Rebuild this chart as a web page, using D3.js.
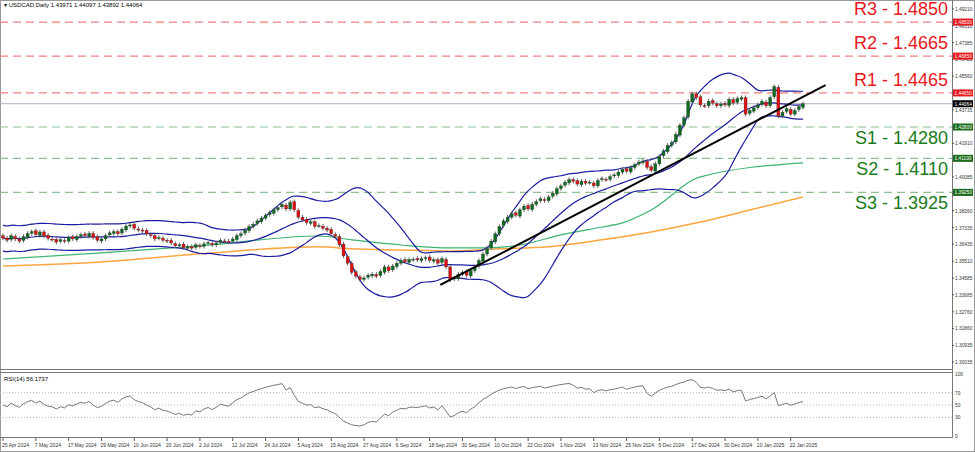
<!DOCTYPE html>
<html><head><meta charset="utf-8">
<script src="https://cdn.jsdelivr.net/npm/d3@7"></script>
<style>body{margin:0;background:#fff}svg{font-family:"Liberation Sans",Arial,sans-serif}</style>
</head><body><svg id="c" width="975" height="452"></svg>
<script>
const closes = [
1.3677,1.3665,1.3690,1.3672,1.3660,1.3685,1.3702,1.3712,1.3695,1.3710,
1.3688,1.3675,1.3670,1.3655,1.3668,1.3660,1.3680,1.3672,1.3685,1.3695,
1.3690,1.3702,1.3680,1.3665,1.3672,1.3690,1.3705,1.3712,1.3700,1.3725,
1.3742,1.3748,1.3730,1.3720,1.3715,1.3700,1.3690,1.3672,1.3680,1.3665,
1.3660,1.3650,1.3635,1.3640,1.3625,1.3630,1.3622,1.3640,1.3632,1.3645,
1.3652,1.3640,1.3650,1.3665,1.3660,1.3655,1.3672,1.3690,1.3700,1.3720,
1.3740,1.3752,1.3770,1.3785,1.3800,1.3815,1.3830,1.3842,1.3860,1.3835,
1.3870,1.3830,1.3790,1.3775,1.3760,1.3765,1.3740,1.3745,1.3730,1.3720,
1.3700,1.3685,1.3640,1.3580,1.3540,1.3490,1.3470,1.3452,1.3460,1.3475,
1.3480,1.3470,1.3495,1.3520,1.3500,1.3525,1.3540,1.3555,1.3548,1.3560,
1.3562,1.3558,1.3565,1.3570,1.3555,1.3560,1.3540,1.3565,1.3520,1.3450,
1.3460,1.3480,1.3490,1.3475,1.3500,1.3520,1.3555,1.3590,1.3620,1.3660,
1.3700,1.3740,1.3770,1.3790,1.3810,1.3800,1.3830,1.3850,1.3835,1.3860,
1.3875,1.3890,1.3880,1.3900,1.3920,1.3945,1.3960,1.3980,1.3995,1.3985,
1.3970,1.3985,1.3975,1.3980,1.3960,1.3990,1.4000,1.3995,1.4010,1.4020,
1.4035,1.4050,1.4040,1.4060,1.4075,1.4090,1.4095,1.4060,1.4045,1.4080,
1.4120,1.4150,1.4180,1.4195,1.4240,1.4290,1.4330,1.4420,1.4460,1.4440,
1.4400,1.4395,1.4420,1.4410,1.4395,1.4405,1.4400,1.4430,1.4410,1.4435,
1.4440,1.4350,1.4370,1.4385,1.4400,1.4420,1.4395,1.4440,1.4500,1.4340,
1.4360,1.4380,1.4350,1.4370,1.4390,1.4406];
const ma100 = [[0,1.3563],[24,1.3596],[48,1.3634],[77,1.3688],[85,1.3667],[97,1.3639],[109,1.3623],[117,1.3623],[126,1.3639],[136,1.3694],[146,1.3737],[151,1.3759],[158,1.3829],[170,1.4009],[195,1.4085]];
const ma200 = [[0,1.3525],[24,1.3547],[48,1.3591],[77,1.3629],[85,1.3618],[97,1.3612],[109,1.3607],[121,1.3618],[133,1.3629],[146,1.3667],[158,1.3710],[170,1.3764],[182,1.3829],[195,1.3900]];
const trend = [[106.6,1.3422],[200.5,1.4508]];
const resist = [["R3",1.4850],["R2",1.4665],["R1",1.4465]];
const support = [["S1",1.4280],["S2",1.4110],["S3",1.3925]];
const current = 1.44064;
const yTicks = ["1.49210","1.48310","1.47385","1.46485","1.45560","1.44650","1.43735","1.42810","1.41910","1.40985","1.40085","1.39160","1.38260","1.37335","1.36435","1.35510","1.34585","1.33685","1.32760","1.31860","1.30935","1.30035"];
const dateLabels = ["25 Apr 2024","7 May 2024","17 May 2024","29 May 2024","10 Jun 2024","20 Jun 2024","2 Jul 2024","12 Jul 2024","24 Jul 2024","5 Aug 2024","15 Aug 2024","27 Aug 2024","6 Sep 2024","18 Sep 2024","30 Sep 2024","10 Oct 2024","22 Oct 2024","1 Nov 2024","13 Nov 2024","25 Nov 2024","5 Dec 2024","17 Dec 2024","30 Dec 2024","10 Jan 2025","22 Jan 2025"];
const rsiTicks = [100,70,50,30,0];

const svg = d3.select("#c");
const W=952, mainB=369;
const x = d3.scaleLinear().domain([0,195]).range([3,803]);
const y = d3.scaleLinear().domain([1.4280,1.30035]).range([127,362]);
const ry = d3.scaleLinear().domain([0,100]).range([436,374]);

svg.append("rect").attr("x",0.5).attr("y",0.5).attr("width",974).attr("height",451).attr("fill","none").attr("stroke","#999");
svg.append("line").attr("x1",W+.5).attr("x2",W+.5).attr("y1",0).attr("y2",438).attr("stroke","#777");
svg.append("line").attr("x1",0).attr("x2",W).attr("y1",mainB+.5).attr("y2",mainB+.5).attr("stroke","#777");
svg.append("line").attr("x1",0).attr("x2",W).attr("y1",mainB+3.5).attr("y2",mainB+3.5).attr("stroke","#777");
svg.append("line").attr("x1",0).attr("x2",W).attr("y1",437.5).attr("y2",437.5).attr("stroke","#777");

const g = svg.append("g");
resist.forEach(([n,v])=>{
  g.append("line").attr("x1",0).attr("x2",W).attr("y1",y(v)).attr("y2",y(v)).attr("stroke","#f08080").attr("stroke-width",1.2).attr("stroke-dasharray","8,5");
  g.append("text").attr("x",948).attr("y",y(v)-7).attr("text-anchor","end").attr("font-size",18).attr("fill","#e8161b").text(n+" - "+v.toFixed(4));
});
support.forEach(([n,v])=>{
  g.append("line").attr("x1",0).attr("x2",W).attr("y1",y(v)).attr("y2",y(v)).attr("stroke","#8fbf8f").attr("stroke-width",1.2).attr("stroke-dasharray","8,5");
  g.append("text").attr("x",948).attr("y",y(v)+17).attr("text-anchor","end").attr("font-size",18).attr("fill","#1a7a1a").text(n+" - "+v.toFixed(4));
});
g.append("line").attr("x1",0).attr("x2",W).attr("y1",y(current)).attr("y2",y(current)).attr("stroke","#a9b4c2");

const line = d3.line().x(d=>x(d[0])).y(d=>y(d[1])).curve(d3.curveMonotoneX);
g.append("path").attr("d",line(ma200)).attr("fill","none").attr("stroke","#ffa540").attr("stroke-width",1.5);
g.append("path").attr("d",line(ma100)).attr("fill","none").attr("stroke","#3cb371").attr("stroke-width",1.2);

const mid=[],up=[],lo=[];
closes.forEach((c,i)=>{
  const s=closes.slice(Math.max(0,i-19),i+1);
  const m=d3.mean(s), sd=Math.sqrt(d3.mean(s,v=>(v-m)*(v-m)));
  const sdd=Math.max(sd,0.0035);
  mid.push([i,m]);up.push([i,m+2*sdd]);lo.push([i,m-2*sdd]);
});
const bl=d3.line().x(d=>x(d[0])).y(d=>y(d[1])).curve(d3.curveBasis);
[mid,up,lo].forEach(a=>g.append("path").attr("d",bl(a)).attr("fill","none").attr("stroke","#1c1ca0").attr("stroke-width",1.2));

closes.forEach((c,i)=>{
  const o = i==0?1.3690:closes[i-1]+((i%3)-1)*0.0004;
  const hi=Math.max(o,c)+0.0012, lw=Math.min(o,c)-0.0012;
  const cx=x(i);
  g.append("line").attr("x1",cx).attr("x2",cx).attr("y1",y(hi)).attr("y2",y(lw)).attr("stroke","#666");
  const top=y(Math.max(o,c)), h=Math.max(1,Math.abs(y(o)-y(c)));
  g.append("rect").attr("x",cx-1.5).attr("y",top).attr("width",3).attr("height",h).attr("fill",c>=o?"#0a6b1e":"#e01010").attr("stroke","#333").attr("stroke-width",0.3);
});

g.append("line").attr("x1",x(trend[0][0])).attr("y1",y(trend[0][1])).attr("x2",x(trend[1][0])).attr("y2",y(trend[1][1])).attr("stroke","#000").attr("stroke-width",2);

yTicks.forEach(t=>{
  const v=+t, yy=y(v);
  svg.append("line").attr("x1",W).attr("x2",W+2).attr("y1",yy).attr("y2",yy).attr("stroke","#555");
  svg.append("text").attr("x",W+3).attr("y",yy+2).attr("font-size",4.8).attr("fill","#333").text(t);
});
const tag=(v,col,txt)=>{
  svg.append("rect").attr("x",W+1).attr("y",y(v)-3.5).attr("width",20).attr("height",7).attr("fill",col);
  svg.append("text").attr("x",W+2.5).attr("y",y(v)+1.8).attr("font-size",4.8).attr("fill","#fff").text(txt);
};
resist.forEach(([n,v])=>tag(v,"#e8161b",v.toFixed(5)));
support.forEach(([n,v])=>tag(v,"#1a6b1a",v.toFixed(5)));
tag(current,"#000",current.toFixed(5));

svg.append("text").attr("x",4).attr("y",7).attr("font-size",6).attr("fill","#000").text("▾ USDCAD,Daily  1.43971 1.44097 1.43892 1.44064");

const rsi=[];let ag=0.0008,al=0.0008;
closes.forEach((c,i)=>{
  if(i==0){rsi.push([0,50]);return;}
  const d=c-closes[i-1];
  ag=(ag*13+Math.max(d,0))/14; al=(al*13+Math.max(-d,0))/14;
  rsi.push([i, 100-100/(1+ag/al)]);
});
[70,50,30].forEach(v=>svg.append("line").attr("x1",0).attr("x2",W).attr("y1",ry(v)).attr("y2",ry(v)).attr("stroke","#bbb").attr("stroke-dasharray","1,2"));
svg.append("path").attr("d",d3.line().x(d=>x(d[0])).y(d=>ry(d[1]))(rsi)).attr("fill","none").attr("stroke","#777").attr("stroke-width",1);
rsiTicks.forEach(t=>svg.append("text").attr("x",W+3).attr("y",ry(t)+2).attr("font-size",4.8).attr("fill","#333").text(t));
svg.append("text").attr("x",4).attr("y",381).attr("font-size",6).text("RSI(14) 56.1737");

dateLabels.forEach((d,i)=>{
  const xi=x(i*8);
  svg.append("line").attr("x1",xi).attr("x2",xi).attr("y1",438).attr("y2",441).attr("stroke","#555");
  svg.append("text").attr("x",xi-1).attr("y",447).attr("font-size",5).attr("fill","#333").text(d);
});
</script></body></html>
